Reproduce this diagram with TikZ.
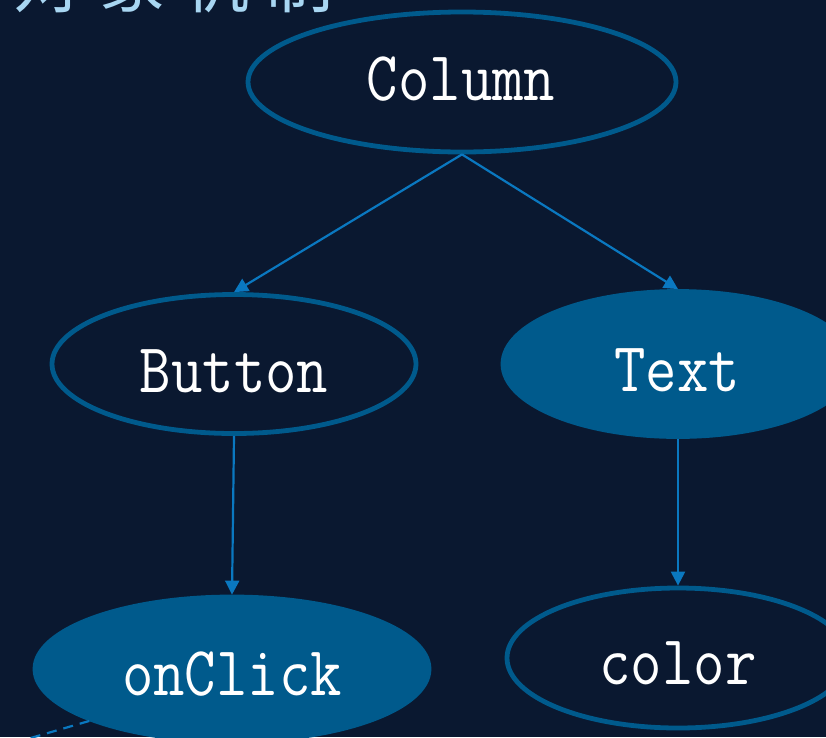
\documentclass[tikz,border=0pt]{standalone}
\usepackage{fontspec}
\usepackage{graphicx}
\usetikzlibrary{shapes.geometric,arrows.meta}
\newfontfamily\cjk{Noto Sans CJK SC}
\definecolor{bgc}{HTML}{0A1830}
\definecolor{ellc}{HTML}{005A8C}
\definecolor{arrc}{HTML}{0A78C0}
\definecolor{titc}{HTML}{A8D6F2}
\tikzset{
  x=1pt,y=-1pt,
  ell/.style={ellipse,draw=ellc,line width=4.8pt,inner sep=0pt},
  ellfill/.style={ell,fill=ellc},
  lbl/.style={anchor=base,inner sep=0pt,text=white,font=\ttfamily\fontsize{61}{61}\selectfont},
  conn/.style={draw=arrc,line width=2.2pt,-{Triangle[length=14pt,width=14pt]}},
  dashconn/.style={draw=arrc,line width=2.2pt,dash pattern=on 10pt off 7pt},
  tit/.style={anchor=base,inner sep=0pt,text=titc,font=\cjk\fontsize{68}{68}\selectfont}
}
\newcommand{\tall}[1]{\scalebox{1}[1.15]{#1}}
\begin{document}
\begin{tikzpicture}
\fill[bgc] (0,0) rectangle (826,737);
\useasboundingbox (0,0) rectangle (826,737);
% title (cut off at the top edge, as in the reference)
\node[tit] (t1) at (47,7) {对};
\node[tit] (t2) at (131,7) {象};
\node[tit] (t3) at (215,7) {机};
\node[tit] (t4) at (299,7) {制};
% ellipses
\node[ell,minimum width=428pt,minimum height=140pt] (col) at (462,82) {};
\node[ell,minimum width=364pt,minimum height=139pt] (btn) at (234,364) {};
\node[ellfill,minimum width=350pt,minimum height=145pt] (txt) at (678,364) {};
\node[ellfill,minimum width=394pt,minimum height=144pt] (ocl) at (232,669) {};
\node[ell,minimum width=342pt,minimum height=140pt] (clr) at (678,658) {};
% labels
\node[lbl] (lcol) at (461,100) {\tall{Column}};
\node[lbl] (lbtn) at (234,392) {\tall{Button}};
\node[lbl] (ltxt) at (677,391) {\tall{Text}};
\node[lbl] (locl) at (232,695) {\tall{onClick}};
\node[lbl] (lclr) at (678,684) {\tall{color}};
% connectors
\draw[conn] (col.south) -- (btn.north);
\draw[conn] (col.south) -- (txt.north);
\draw[conn] (btn.south) -- (ocl.north);
\draw[conn] (txt.south) -- (clr.north);
\coordinate (dend) at (10,744);
\draw[dashconn] (ocl.200) -- (dend);
\end{tikzpicture}
\end{document}
